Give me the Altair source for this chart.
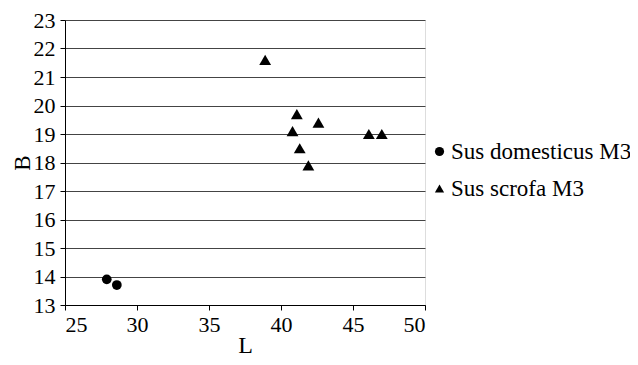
import altair as alt
import pandas as pd

dom_L = [27.9, 28.6]
dom_B = [13.9, 13.7]
scr_L = [38.9, 41.1, 42.6, 40.8, 41.3, 41.9, 46.1, 47.0]
scr_B = [21.6, 19.7, 19.4, 19.1, 18.5, 17.9, 19.0, 19.0]
series = ["Sus domesticus M3", "Sus scrofa M3"]

rows = [{"L": l, "B": b, "s": series[0]} for l, b in zip(dom_L, dom_B)]
rows += [{"L": l, "B": b, "s": series[1]} for l, b in zip(scr_L, scr_B)]
df = pd.DataFrame(rows)

font = "Liberation Serif"

xenc = alt.X("L:Q", scale=alt.Scale(domain=[25, 50], nice=False, zero=False),
             axis=alt.Axis(values=[25, 30, 35, 40, 45, 50], title="L", grid=False,
                           labelFont=font, labelFontSize=22, labelColor="black",
                           titleFont=font, titleFontSize=24, titleFontWeight="normal",
                           titleColor="black", titleBaseline="alphabetic", titleY=47,
                           domainColor="black", tickColor="black", tickSize=5, labelPadding=4))
yenc = alt.Y("B:Q", scale=alt.Scale(domain=[13, 23], nice=False, zero=False),
             axis=alt.Axis(values=list(range(13, 24)), title="B", grid=True,
                           gridColor="#444", gridWidth=1,
                           labelFont=font, labelFontSize=22, labelColor="black",
                           titleFont=font, titleFontSize=23, titleFontWeight="normal",
                           titleColor="black", titleBaseline="alphabetic", titleX=-36,
                           domainColor="black", tickColor="black", tickSize=5, labelPadding=5))
shenc = alt.Shape("s:N", scale=alt.Scale(domain=series, range=["circle", "triangle-up"]),
                  legend=alt.Legend(title=None, orient="none", legendX=363, legendY=120,
                                    labelFont=font, labelFontSize=23, labelColor="black",
                                    labelLimit=400,
                                    symbolFillColor="black", symbolStrokeColor="black",
                                    symbolSize=85, rowPadding=13, labelOffset=0))

base = alt.Chart(df).encode(x=xenc, y=yenc, shape=shenc, color=alt.value("black"))

dom = base.mark_point(filled=True, opacity=1, size=95).transform_filter(
    alt.datum.s == series[0])
scr = base.mark_point(filled=True, opacity=1, size=140).transform_filter(
    alt.datum.s == series[1])

chart = alt.layer(dom, scr).properties(
    width=360, height=285,
    autosize=alt.AutoSizeParams(type="none"),
    padding={"left": 57, "top": 12, "right": 205, "bottom": 52},
).configure_view(stroke=None).configure(background="white")

chart.save("out.html", embed_options={"renderer": "svg", "actions": False})
